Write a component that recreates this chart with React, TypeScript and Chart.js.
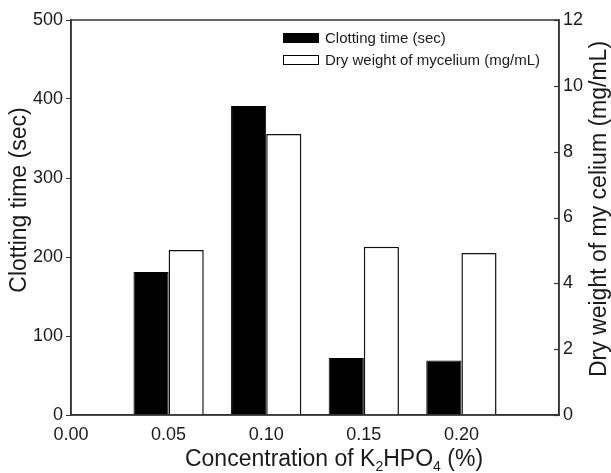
import React, { useEffect, useRef } from "react";
import { Chart, registerables } from "chart.js";

Chart.register(...registerables);

const concentrations = [0.05, 0.1, 0.15, 0.2];
const clottingTime = [181, 391, 72, 69];
const dryWeight = [5.01, 8.54, 5.11, 4.92];
const xTickValues = [0, 0.05, 0.1, 0.15, 0.2];
const seriesLabels = ["Clotting time (sec)", "Dry weight of mycelium (mg/mL)"];

const FONT = "'Liberation Sans', Arial, sans-serif";
const AXIS = "#333333";
const TEXT = "#1a1a1a";

const decorPlugin = {
  id: "decor",
  afterDraw(chart: any) {
    const { ctx, chartArea } = chart;
    const { left, right, top, bottom } = chartArea;
    ctx.save();
    // frame
    ctx.strokeStyle = AXIS;
    ctx.lineWidth = 1.5;
    ctx.strokeRect(left, top, right - left, bottom - top);

    // inward ticks on right axis
    const y1 = chart.scales.y1;
    ctx.lineWidth = 1.2;
    y1.ticks.forEach((t: any) => {
      const py = Math.round(y1.getPixelForValue(t.value)) + 0.5;
      ctx.beginPath();
      ctx.moveTo(right - 5, py);
      ctx.lineTo(right, py);
      ctx.stroke();
    });

    // legend
    const lx = 283;
    const rows = [38, 60];
    ctx.font = `15px ${FONT}`;
    ctx.textBaseline = "middle";
    ctx.textAlign = "left";
    chart.data.datasets.forEach((ds: any, i: number) => {
      const y = rows[i];
      ctx.fillStyle = ds.backgroundColor;
      ctx.fillRect(lx, y - 5, 36, 10);
      ctx.strokeStyle = "#000";
      ctx.lineWidth = 1;
      ctx.strokeRect(lx + 0.5, y - 4.5, 35, 9);
      ctx.fillStyle = TEXT;
      ctx.fillText(ds.label, lx + 42, y + 1);
    });

    // left title
    ctx.font = `23px ${FONT}`;
    ctx.fillStyle = TEXT;
    ctx.save();
    ctx.translate(20, 200);
    ctx.rotate(-Math.PI / 2);
    ctx.textAlign = "center";
    ctx.textBaseline = "middle";
    ctx.fillText("Clotting time (sec)", 0, 0);
    ctx.restore();

    // right title
    ctx.save();
    ctx.translate(600, 209);
    ctx.rotate(-Math.PI / 2);
    ctx.textAlign = "center";
    ctx.textBaseline = "middle";
    ctx.fillText("Dry weight of my celium (mg/mL)", 0, 0);
    ctx.restore();

    // x title with subscripts
    const parts: [string, boolean][] = [
      ["Concentration of K", false],
      ["2", true],
      ["HPO", false],
      ["4", true],
      [" (%)", false],
    ];
    const big = `23px ${FONT}`;
    const small = `14px ${FONT}`;
    let total = 0;
    parts.forEach(([t, sub]) => {
      ctx.font = sub ? small : big;
      total += ctx.measureText(t).width;
    });
    let x = 334 - total / 2;
    const base = 466;
    ctx.textAlign = "left";
    ctx.textBaseline = "alphabetic";
    parts.forEach(([t, sub]) => {
      ctx.font = sub ? small : big;
      ctx.fillText(t, x, sub ? base + 5 : base);
      x += ctx.measureText(t).width;
    });
    ctx.restore();
  },
};

export default function App() {
  const ref = useRef<HTMLCanvasElement | null>(null);
  useEffect(() => {
    document.body.style.margin = "0";
    const canvas = ref.current!;
    const chart = new Chart(canvas, {
      type: "bar",
      data: {
        datasets: [
          {
            label: seriesLabels[0],
            data: concentrations.map((c, i) => ({ x: c, y: clottingTime[i] })),
            backgroundColor: "#000000",
            borderColor: "#000000",
            borderWidth: 1,
            yAxisID: "y",
            categoryPercentage: 0.72,
            barPercentage: 1.0,
          },
          {
            label: seriesLabels[1],
            data: concentrations.map((c, i) => ({ x: c, y: dryWeight[i] })),
            backgroundColor: "#ffffff",
            borderColor: "#111111",
            borderWidth: 1.5,
            yAxisID: "y1",
            categoryPercentage: 0.72,
            barPercentage: 1.0,
          },
        ],
      },
      options: {
        animation: false,
        responsive: false,
        maintainAspectRatio: false,
        layout: { padding: { top: 20, left: 0, right: 0, bottom: 0 } },
        plugins: { legend: { display: false }, tooltip: { enabled: false } },
        scales: {
          x: {
            type: "linear",
            offset: false,
            min: 0,
            max: 0.25,
            afterBuildTicks: (scale: any) => {
              scale.ticks = xTickValues.map((v) => ({ value: v }));
            },
            afterFit: (scale: any) => {
              scale.height = 58;
            },
            ticks: {
              callback: (v: any) => Number(v).toFixed(2),
              font: { family: FONT, size: 18 },
              color: TEXT,
              padding: 9,
              maxRotation: 0,
              autoSkip: false,
            },
            grid: {
              drawOnChartArea: false,
              drawTicks: false,
              color: AXIS,
            },
            border: { color: AXIS, width: 1.5 },
          },
          y: {
            position: "left",
            min: 0,
            max: 500,
            ticks: {
              stepSize: 100,
              font: { family: FONT, size: 18 },
              color: TEXT,
              padding: 3,
            },
            afterFit: (scale: any) => {
              scale.width = 71;
            },
            grid: { drawOnChartArea: false, tickLength: 5, color: AXIS },
            border: { color: AXIS, width: 1.5 },
          },
          y1: {
            position: "right",
            min: 0,
            max: 12,
            ticks: {
              stepSize: 2,
              font: { family: FONT, size: 18 },
              color: TEXT,
              padding: 4,
            },
            afterFit: (scale: any) => {
              scale.width = 52;
            },
            grid: { drawOnChartArea: false, drawTicks: false, color: AXIS },
            border: { color: AXIS, width: 1.5 },
          },
        },
      },
      plugins: [decorPlugin],
    } as any);
    return () => chart.destroy();
  }, []);
  return (
    <div style={{ width: 611, height: 473, background: "#fff" }}>
      <canvas ref={ref} width={611} height={473} style={{ display: "block" }} />
    </div>
  );
}
